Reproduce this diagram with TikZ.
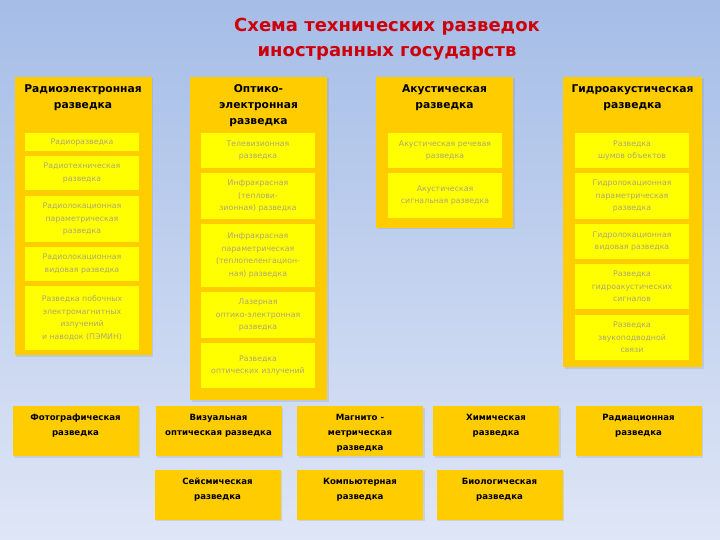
\documentclass[tikz,border=0pt]{standalone}
\usepackage{fontspec}
\setmainfont{DejaVu Sans}
\usepackage{tikz}
\usetikzlibrary{positioning,shadows}
\definecolor{skytop}{RGB}{165,189,231}
\definecolor{skybot}{RGB}{223,230,246}
\definecolor{amber}{RGB}{255,204,0}
\definecolor{lemon}{RGB}{255,255,0}
\definecolor{palegrey}{RGB}{172,167,120}
\definecolor{titlered}{RGB}{205,0,10}

\begin{document}
\begin{tikzpicture}[x=1pt, y=-1pt,
  colbox/.style={rectangle, fill=amber, inner sep=0pt, outer sep=0pt,
    drop shadow={opacity=0.18, shadow xshift=1.5pt, shadow yshift=-1.5pt}},
  coltitle/.style={align=center, text=black,
    font=\fontsize{10.7}{16}\selectfont\bfseries},
  subbox/.style={rectangle, fill=lemon, inner sep=0pt, outer sep=0pt,
    minimum width=114pt, text=palegrey, align=center,
    font=\fontsize{7.8}{12.5}\selectfont},
  botbox/.style={rectangle, fill=amber, inner sep=0pt, outer sep=0pt,
    minimum width=126pt, minimum height=50pt,
    drop shadow={opacity=0.18, shadow xshift=1.5pt, shadow yshift=-1.5pt}},
  bottext/.style={align=center, text=black, inner sep=0pt,
    font=\fontsize{8.6}{15}\selectfont\bfseries}
]
\useasboundingbox (0,0) rectangle (720,540);
\shade[top color=skytop, bottom color=skybot] (0,0) rectangle (720,540);

% title
\node[align=center, text=titlered, font=\fontsize{18}{25}\selectfont\bfseries]
  (title) at (387,39) {Схема технических разведок\\иностранных государств};

% radio-electronic
\node[colbox, minimum width=137pt, minimum height=278pt] (re) at (83,216) {};
\node[coltitle, below=4.5pt of re.north] (ret) {Радиоэлектронная\\разведка};
\node[subbox, minimum height=18pt] (re1) at (82,142) {Радиоразведка};
\node[subbox, minimum height=34pt] (re2) at (82,173) {Радиотехническая\\разведка};
\node[subbox, minimum height=46pt] (re3) at (82,219) {Радиолокационная\\параметрическая\\разведка};
\node[subbox, minimum height=34pt] (re4) at (82,264) {Радиолокационная\\видовая разведка};
\node[subbox, minimum height=64pt] (re5) at (82,318) {Разведка побочных\\электромагнитных\\излучений\\и наводок (ПЭМИН)};

% opto-electronic
\node[colbox, minimum width=137pt, minimum height=323pt] (oe) at (258.5,238.5) {};
\node[coltitle, below=4.5pt of oe.north] (oet) {Оптико-\\электронная\\разведка};
\node[subbox, minimum height=35pt] (oe1) at (258,150.5) {Телевизионная\\разведка};
\node[subbox, minimum height=46pt] (oe2) at (258,196) {Инфракрасная\\(теплови-\\зионная) разведка};
\node[subbox, minimum height=63pt] (oe3) at (258,255.5) {Инфракрасная\\параметрическая\\(теплопеленгацион-\\ная) разведка};
\node[subbox, minimum height=46pt] (oe4) at (258,315) {Лазерная\\оптико-электронная\\разведка};
\node[subbox, minimum height=45pt] (oe5) at (258,365.5) {Разведка\\оптических излучений};

% acoustic
\node[colbox, minimum width=137pt, minimum height=151pt] (ak) at (444.5,152.5) {};
\node[coltitle, below=4.5pt of ak.north] (akt) {Акустическая\\разведка};
\node[subbox, minimum height=35pt] (ak1) at (445,150.5) {Акустическая речевая\\разведка};
\node[subbox, minimum height=45pt] (ak2) at (445,195.5) {Акустическая\\сигнальная разведка};

% hydro-acoustic
\node[colbox, minimum width=139pt, minimum height=290pt] (ga) at (632.5,222) {};
\node[coltitle, below=4.5pt of ga.north] (gat) {Гидроакустическая\\разведка};
\node[subbox, minimum height=35pt] (ga1) at (632,150.5) {Разведка\\шумов объектов};
\node[subbox, minimum height=46pt] (ga2) at (632,196) {Гидролокационная\\параметрическая\\разведка};
\node[subbox, minimum height=35pt] (ga3) at (632,241.5) {Гидролокационная\\видовая разведка};
\node[subbox, minimum height=45pt] (ga4) at (632,286.5) {Разведка\\гидроакустических\\сигналов};
\node[subbox, minimum height=45pt] (ga5) at (632,337.5) {Разведка\\звукоподводной\\связи};

% bottom rows
\node[botbox] (foto) at (75.5,431)  {};
\node[botbox] (viz)  at (218.5,431) {};
\node[botbox] (mag)  at (360,431)   {};
\node[botbox] (him)  at (496,431)   {};
\node[botbox] (rad)  at (638.5,431) {};
\node[botbox] (seis) at (217.5,494.5) {};
\node[botbox] (komp) at (360,494.5)   {};
\node[botbox] (bio)  at (499.5,494.5) {};
\node[bottext, below=7.5pt of foto.north] (fotot) {Фотографическая\\разведка};
\node[bottext, below=8.5pt of viz.north]  (vizt)  {Визуальная\\оптическая разведка};
\node[bottext, below=8.5pt of mag.north]  (magt)  {Магнито -\\метрическая\\разведка};
\node[bottext, below=8.5pt of him.north]  (himt)  {Химическая\\разведка};
\node[bottext, below=8.5pt of rad.north]  (radt)  {Радиационная\\разведка};
\node[bottext, below=8.5pt of seis.north] (seist) {Сейсмическая\\разведка};
\node[bottext, below=8.5pt of komp.north] (kompt) {Компьютерная\\разведка};
\node[bottext, below=8.5pt of bio.north]  (biot)  {Биологическая\\разведка};
\end{tikzpicture}
\end{document}
